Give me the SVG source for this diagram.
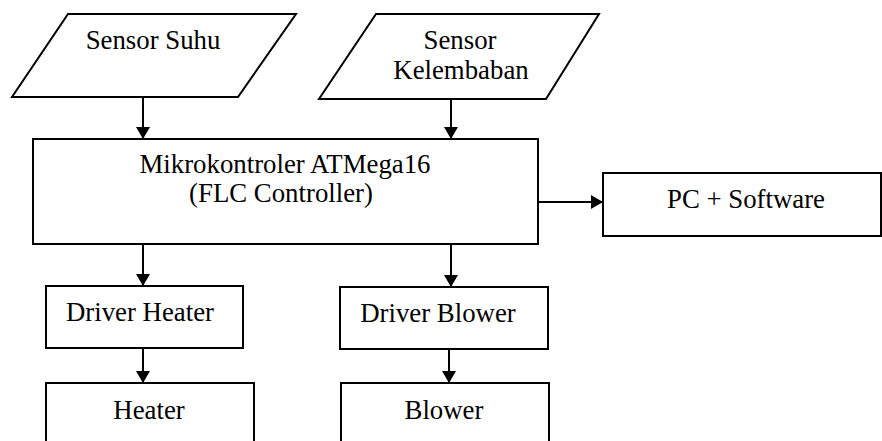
<svg xmlns="http://www.w3.org/2000/svg" width="882" height="441" viewBox="0 0 882 441">
<style>
.n{fill:#fff;stroke:#000;stroke-width:2}
.t{font-family:'Liberation Serif',Tinos,'DejaVu Serif',serif;font-size:26.8px;fill:#000;text-anchor:middle}
.c{stroke:#000;stroke-width:2;fill:none;marker-end:url(#ah)}
</style>
<defs>
<marker id="ah" markerWidth="12" markerHeight="14" refX="12" refY="7" orient="auto" markerUnits="userSpaceOnUse">
<path d="M0,0 L12,7 L0,14 Z" fill="#000"/>
</marker>
</defs>
<rect width="882" height="441" fill="#fff"/>
<g id="sensor-suhu">
<polygon class="n" points="68,14 296,14 238,97 12,97"/>
<text class="t" x="153" y="49">Sensor Suhu</text>
</g>
<g id="sensor-kelembaban">
<polygon class="n" points="376,14 599,14 546,99 319,99"/>
<text class="t" x="460" y="49">Sensor</text>
<text class="t" x="461" y="79">Kelembaban</text>
</g>
<g id="mikrokontroler">
<rect class="n" x="33" y="139" width="505" height="105"/>
<text class="t" x="285" y="173">Mikrokontroler ATMega16</text>
<text class="t" x="281" y="202">(FLC Controller)</text>
</g>
<g id="pc">
<rect class="n" x="603" y="173" width="278" height="63"/>
<text class="t" x="746" y="208">PC + Software</text>
</g>
<g id="driver-heater">
<rect class="n" x="46" y="286" width="197" height="62"/>
<text class="t" x="140" y="321">Driver Heater</text>
</g>
<g id="driver-blower">
<rect class="n" x="340" y="287" width="208" height="62"/>
<text class="t" x="438" y="322">Driver Blower</text>
</g>
<g id="heater">
<rect class="n" x="46" y="383" width="208" height="70"/>
<text class="t" x="149" y="419">Heater</text>
</g>
<g id="blower">
<rect class="n" x="341" y="383" width="208" height="70"/>
<text class="t" x="444" y="419">Blower</text>
</g>
<g id="connectors">
<line class="c" x1="143" y1="97" x2="143" y2="139"/>
<line class="c" x1="451" y1="99" x2="451" y2="139"/>
<line class="c" x1="538" y1="202" x2="603" y2="202"/>
<line class="c" x1="143" y1="244" x2="143" y2="286"/>
<line class="c" x1="451" y1="244" x2="451" y2="287"/>
<line class="c" x1="143" y1="348" x2="143" y2="383"/>
<line class="c" x1="449" y1="349" x2="449" y2="383"/>
</g>
</svg>
